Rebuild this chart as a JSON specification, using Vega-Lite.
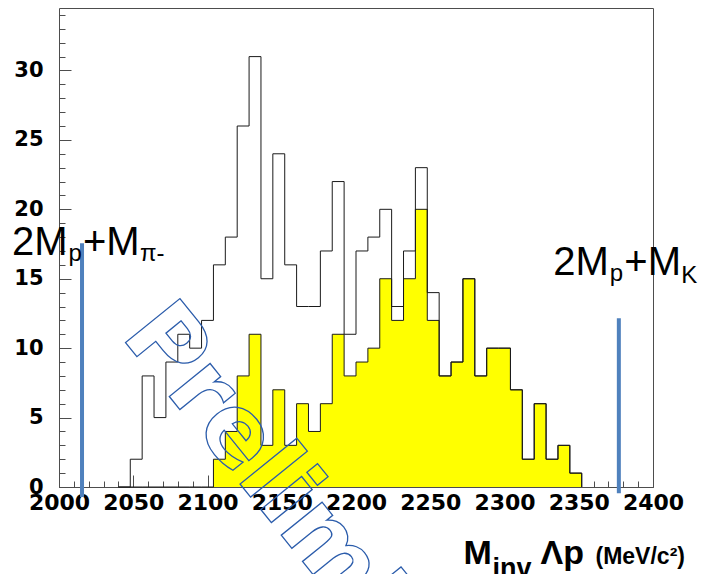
{
  "$schema": "https://vega.github.io/schema/vega-lite/v6.json",
  "width": 594,
  "height": 479,
  "autosize": {"type": "none"},
  "padding": {"left": 59, "top": 8, "right": 49, "bottom": 87},
  "config": {
    "view": {"stroke": "#4d4d4d", "strokeWidth": 1},
    "axis": {
      "grid": false,
      "domain": false,
      "tickColor": "#4d4d4d",
      "tickWidth": 1,
      "labelFont": "DejaVu Sans",
      "labelFontWeight": "bold",
      "labelColor": "#000000",
      "titleColor": "#000000",
      "titleFont": "Liberation Sans",
      "titleFontWeight": "bold",
      "labelFlush": false,
      "labelOverlap": false
    }
  },
  "data": {
    "values": [
      {"mass": 2040, "total": 0, "selected": 0},
      {"mass": 2048, "total": 2, "selected": 0},
      {"mass": 2056, "total": 8, "selected": 0},
      {"mass": 2064, "total": 5, "selected": 0},
      {"mass": 2072, "total": 9, "selected": 0},
      {"mass": 2080, "total": 11, "selected": 0},
      {"mass": 2088, "total": 10, "selected": 0},
      {"mass": 2096, "total": 12, "selected": 0},
      {"mass": 2104, "total": 16, "selected": 2},
      {"mass": 2112, "total": 18, "selected": 4},
      {"mass": 2120, "total": 26, "selected": 8},
      {"mass": 2128, "total": 31, "selected": 11},
      {"mass": 2136, "total": 15, "selected": 3},
      {"mass": 2144, "total": 24, "selected": 7},
      {"mass": 2152, "total": 16, "selected": 3},
      {"mass": 2160, "total": 13, "selected": 6},
      {"mass": 2168, "total": 13, "selected": 4},
      {"mass": 2176, "total": 17, "selected": 6},
      {"mass": 2184, "total": 22, "selected": 11},
      {"mass": 2192, "total": 11, "selected": 8},
      {"mass": 2200, "total": 17, "selected": 9},
      {"mass": 2208, "total": 18, "selected": 10},
      {"mass": 2216, "total": 20, "selected": 15},
      {"mass": 2224, "total": 13, "selected": 12},
      {"mass": 2232, "total": 17, "selected": 15},
      {"mass": 2240, "total": 23, "selected": 20},
      {"mass": 2248, "total": 14, "selected": 12},
      {"mass": 2256, "total": 8, "selected": 8},
      {"mass": 2264, "total": 9, "selected": 9},
      {"mass": 2272, "total": 15, "selected": 15},
      {"mass": 2280, "total": 8, "selected": 8},
      {"mass": 2288, "total": 10, "selected": 10},
      {"mass": 2296, "total": 10, "selected": 10},
      {"mass": 2304, "total": 7, "selected": 7},
      {"mass": 2312, "total": 2, "selected": 2},
      {"mass": 2320, "total": 6, "selected": 6},
      {"mass": 2328, "total": 2, "selected": 2},
      {"mass": 2336, "total": 3, "selected": 3},
      {"mass": 2344, "total": 1, "selected": 1},
      {"mass": 2352, "total": 0, "selected": 0}
    ]
  },
  "resolve": {"axis": {"x": "independent", "y": "independent"}},
  "layer": [
    {
      "mark": {"type": "area", "interpolate": "step-after", "color": "#ffff00", "opacity": 1},
      "encoding": {
        "x": {
          "field": "mass", "type": "quantitative",
          "scale": {"domain": [2000, 2400], "nice": false, "zero": false},
          "axis": {
            "orient": "bottom",
            "values": [2000, 2050, 2100, 2150, 2200, 2250, 2300, 2350, 2400],
            "format": "d",
            "tickSize": -12,
            "labelFontSize": 22,
            "labelPadding": 17,
            "title": "M",
            "titleFontSize": 34,
            "titleX": 404,
            "titleY": 76,
            "titleAlign": "left",
            "titleBaseline": "alphabetic"
          }
        },
        "y": {
          "field": "selected", "type": "quantitative",
          "scale": {"domain": [0, 34.5], "nice": false},
          "axis": {
            "orient": "left",
            "values": [0, 5, 10, 15, 20, 25, 30],
            "tickSize": -12,
            "labelFontSize": 21,
            "labelPadding": 28,
            "title": null
          }
        }
      }
    },
    {
      "mark": {"type": "line", "interpolate": "step-after", "color": "#1a1a1a", "strokeWidth": 1},
      "encoding": {
        "x": {
          "field": "mass", "type": "quantitative",
          "scale": {"domain": [2000, 2400], "nice": false, "zero": false},
          "axis": {
            "orient": "bottom",
            "values": [2000, 2010, 2020, 2030, 2040, 2050, 2060, 2070, 2080, 2090, 2100, 2110, 2120, 2130, 2140, 2150, 2160, 2170, 2180, 2190, 2200, 2210, 2220, 2230, 2240, 2250, 2260, 2270, 2280, 2290, 2300, 2310, 2320, 2330, 2340, 2350, 2360, 2370, 2380, 2390, 2400],
            "tickSize": -6,
            "labels": false,
            "title": "inv",
            "titleFontSize": 27,
            "titleX": 433,
            "titleY": 89,
            "titleAlign": "left",
            "titleBaseline": "alphabetic"
          }
        },
        "y": {
          "field": "selected", "type": "quantitative",
          "scale": {"domain": [0, 34.5], "nice": false},
          "axis": {
            "orient": "left",
            "values": [0, 1, 2, 3, 4, 5, 6, 7, 8, 9, 10, 11, 12, 13, 14, 15, 16, 17, 18, 19, 20, 21, 22, 23, 24, 25, 26, 27, 28, 29, 30, 31, 32, 33, 34],
            "tickSize": -6,
            "labels": false,
            "title": null
          }
        }
      }
    },
    {
      "mark": {"type": "line", "interpolate": "step-after", "color": "#1a1a1a", "strokeWidth": 1},
      "encoding": {
        "x": {
          "field": "mass", "type": "quantitative",
          "scale": {"domain": [2000, 2400], "nice": false, "zero": false},
          "axis": {
            "orient": "bottom",
            "ticks": false,
            "labels": false,
            "title": "Λp",
            "titleFontSize": 34,
            "titleX": 481,
            "titleY": 76,
            "titleAlign": "left",
            "titleBaseline": "alphabetic"
          }
        },
        "y": {
          "field": "total", "type": "quantitative",
          "scale": {"domain": [0, 34.5], "nice": false},
          "axis": null
        }
      }
    },
    {
      "data": {"values": [{}]},
      "mark": {"type": "rule", "color": "#4f81bd", "strokeWidth": 4},
      "encoding": {
        "x": {
          "datum": 2015.5, "type": "quantitative",
          "scale": {"domain": [2000, 2400], "nice": false, "zero": false},
          "axis": {
            "orient": "bottom",
            "ticks": false,
            "labels": false,
            "title": "(MeV/c²)",
            "titleFontSize": 23,
            "titleX": 536,
            "titleY": 76,
            "titleAlign": "left",
            "titleBaseline": "alphabetic"
          }
        },
        "y": {"datum": 17.56, "type": "quantitative", "scale": {"domain": [0, 34.5], "nice": false}, "axis": null},
        "y2": {"datum": -0.72}
      }
    },
    {
      "data": {"values": [{}]},
      "mark": {"type": "rule", "color": "#4f81bd", "strokeWidth": 4},
      "encoding": {
        "x": {"datum": 2377, "type": "quantitative", "scale": {"domain": [2000, 2400], "nice": false, "zero": false}, "axis": null},
        "y": {"datum": 12.15, "type": "quantitative", "scale": {"domain": [0, 34.5], "nice": false}, "axis": null},
        "y2": {"datum": -0.45}
      }
    },
    {
      "data": {"values": [{}]},
      "mark": {"type": "text", "text": "2M", "font": "Liberation Sans", "fontSize": 40, "align": "left", "baseline": "alphabetic", "color": "#000000"},
      "encoding": {
        "x": {"datum": 1968.35, "type": "quantitative", "scale": {"domain": [2000, 2400], "nice": false, "zero": false}, "axis": null},
        "y": {"datum": 16.71, "type": "quantitative", "scale": {"domain": [0, 34.5], "nice": false}, "axis": null}
      }
    },
    {
      "data": {"values": [{}]},
      "mark": {"type": "text", "text": "p", "font": "Liberation Sans", "fontSize": 24, "dx": 56.5, "dy": 6, "align": "left", "baseline": "alphabetic", "color": "#000000"},
      "encoding": {
        "x": {"datum": 1968.35, "type": "quantitative", "scale": {"domain": [2000, 2400], "nice": false, "zero": false}, "axis": null},
        "y": {"datum": 16.71, "type": "quantitative", "scale": {"domain": [0, 34.5], "nice": false}, "axis": null}
      }
    },
    {
      "data": {"values": [{}]},
      "mark": {"type": "text", "text": "+M", "font": "Liberation Sans", "fontSize": 40, "dx": 71, "align": "left", "baseline": "alphabetic", "color": "#000000"},
      "encoding": {
        "x": {"datum": 1968.35, "type": "quantitative", "scale": {"domain": [2000, 2400], "nice": false, "zero": false}, "axis": null},
        "y": {"datum": 16.71, "type": "quantitative", "scale": {"domain": [0, 34.5], "nice": false}, "axis": null}
      }
    },
    {
      "data": {"values": [{}]},
      "mark": {"type": "text", "text": "π-", "font": "Liberation Sans", "fontSize": 24, "dx": 128, "dy": 6, "align": "left", "baseline": "alphabetic", "color": "#000000"},
      "encoding": {
        "x": {"datum": 1968.35, "type": "quantitative", "scale": {"domain": [2000, 2400], "nice": false, "zero": false}, "axis": null},
        "y": {"datum": 16.71, "type": "quantitative", "scale": {"domain": [0, 34.5], "nice": false}, "axis": null}
      }
    },
    {
      "data": {"values": [{}]},
      "mark": {"type": "text", "text": "2M", "font": "Liberation Sans", "fontSize": 40, "align": "left", "baseline": "alphabetic", "color": "#000000"},
      "encoding": {
        "x": {"datum": 2332.86, "type": "quantitative", "scale": {"domain": [2000, 2400], "nice": false, "zero": false}, "axis": null},
        "y": {"datum": 15.27, "type": "quantitative", "scale": {"domain": [0, 34.5], "nice": false}, "axis": null}
      }
    },
    {
      "data": {"values": [{}]},
      "mark": {"type": "text", "text": "p", "font": "Liberation Sans", "fontSize": 24, "dx": 56.5, "dy": 6, "align": "left", "baseline": "alphabetic", "color": "#000000"},
      "encoding": {
        "x": {"datum": 2332.86, "type": "quantitative", "scale": {"domain": [2000, 2400], "nice": false, "zero": false}, "axis": null},
        "y": {"datum": 15.27, "type": "quantitative", "scale": {"domain": [0, 34.5], "nice": false}, "axis": null}
      }
    },
    {
      "data": {"values": [{}]},
      "mark": {"type": "text", "text": "+M", "font": "Liberation Sans", "fontSize": 40, "dx": 71, "align": "left", "baseline": "alphabetic", "color": "#000000"},
      "encoding": {
        "x": {"datum": 2332.86, "type": "quantitative", "scale": {"domain": [2000, 2400], "nice": false, "zero": false}, "axis": null},
        "y": {"datum": 15.27, "type": "quantitative", "scale": {"domain": [0, 34.5], "nice": false}, "axis": null}
      }
    },
    {
      "data": {"values": [{}]},
      "mark": {"type": "text", "text": "K", "font": "Liberation Sans", "fontSize": 24, "dx": 128, "dy": 8, "align": "left", "baseline": "alphabetic", "color": "#000000"},
      "encoding": {
        "x": {"datum": 2332.86, "type": "quantitative", "scale": {"domain": [2000, 2400], "nice": false, "zero": false}, "axis": null},
        "y": {"datum": 15.27, "type": "quantitative", "scale": {"domain": [0, 34.5], "nice": false}, "axis": null}
      }
    },
    {
      "data": {"values": [{}]},
      "mark": {"type": "text", "text": "Preliminary", "font": "DejaVu Sans", "fontWeight": "bold", "fontSize": 96, "angle": 51, "align": "left", "baseline": "alphabetic", "fillOpacity": 0, "stroke": "#2b5cab", "strokeWidth": 1.3},
      "encoding": {
        "x": {"datum": 2041, "type": "quantitative", "scale": {"domain": [2000, 2400], "nice": false, "zero": false}, "axis": null},
        "y": {"datum": 10.9, "type": "quantitative", "scale": {"domain": [0, 34.5], "nice": false}, "axis": null}
      }
    }
  ]
}
